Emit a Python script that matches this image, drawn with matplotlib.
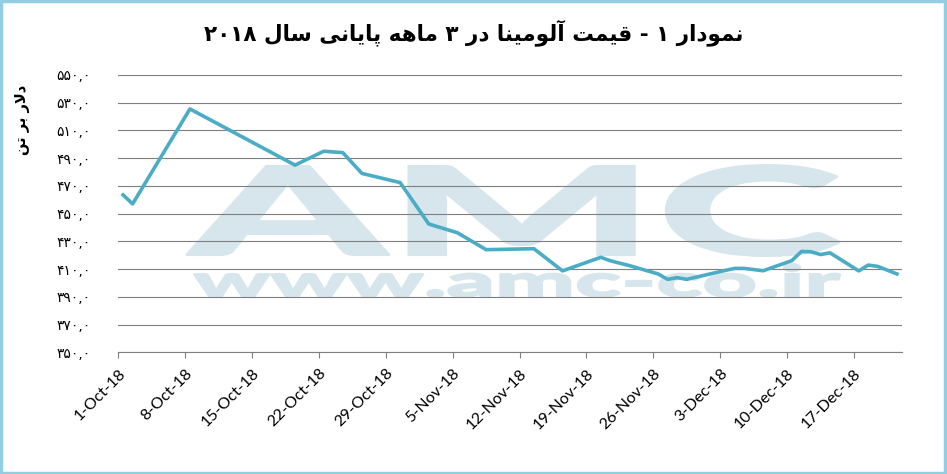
import matplotlib
matplotlib.use("Agg")
import matplotlib.pyplot as plt
import matplotlib.dates as mdates
from matplotlib.textpath import TextPath
from matplotlib.font_manager import FontProperties
from matplotlib.patches import PathPatch, Rectangle
from matplotlib.transforms import Affine2D
import pandas as pd

# price of alumina, last 3 months of 2018 (USD per tonne)
price_dates = ["2018-10-01", "2018-10-02", "2018-10-08", "2018-10-19", "2018-10-22",
               "2018-10-23", "2018-10-24", "2018-10-26", "2018-10-30", "2018-11-02",
               "2018-11-05", "2018-11-08", "2018-11-13", "2018-11-16", "2018-11-20",
               "2018-11-21", "2018-11-23", "2018-11-26", "2018-11-27", "2018-11-28",
               "2018-11-29", "2018-12-03", "2018-12-04", "2018-12-05", "2018-12-07",
               "2018-12-10", "2018-12-11", "2018-12-12", "2018-12-13", "2018-12-14",
               "2018-12-17", "2018-12-18", "2018-12-19", "2018-12-21"]
price_values = [463.5, 457.0, 525.5, 485.0, 495.0,
                494.5, 494.0, 479.0, 472.4, 442.5,
                436.2, 424.0, 424.7, 408.7, 418.5,
                416.0, 412.5, 406.5, 402.6, 403.8,
                402.6, 409.0, 410.5, 410.5, 408.8,
                416.1, 422.7, 422.5, 420.5, 421.7,
                408.7, 412.9, 411.9, 406.5]

xtick_dates = pd.date_range("2018-10-01", "2018-12-17", freq="7D")
xtick_labels = [f"{d.day}-{d.strftime('%b-%y')}" for d in xtick_dates]
ytick_values = list(range(350, 551, 20))

title_text = "نمودار ۱ - قیمت آلومینا در ۳ ماهه پایانی سال ۲۰۱۸"
ylabel_text = "دلار بر تن"

# --- tiny persian shaper (matplotlib has no complex text layout) ---
FORMS = {
    'ا': ('\uFE8D', '\uFE8E', None, None),
    'آ': ('\uFE81', '\uFE82', None, None),
    'ب': ('\uFE8F', '\uFE90', '\uFE91', '\uFE92'),
    'پ': ('\uFB56', '\uFB57', '\uFB58', '\uFB59'),
    'ت': ('\uFE95', '\uFE96', '\uFE97', '\uFE98'),
    'د': ('\uFEA9', '\uFEAA', None, None),
    'ر': ('\uFEAD', '\uFEAE', None, None),
    'س': ('\uFEB1', '\uFEB2', '\uFEB3', '\uFEB4'),
    'ق': ('\uFED5', '\uFED6', '\uFED7', '\uFED8'),
    'ل': ('\uFEDD', '\uFEDE', '\uFEDF', '\uFEE0'),
    'م': ('\uFEE1', '\uFEE2', '\uFEE3', '\uFEE4'),
    'ن': ('\uFEE5', '\uFEE6', '\uFEE7', '\uFEE8'),
    'ه': ('\uFEE9', '\uFEEA', '\uFEEB', '\uFEEC'),
    'و': ('\uFEED', '\uFEEE', None, None),
    'ی': ('\uFBFC', '\uFBFD', '\uFBFE', '\uFBFF'),
}
LAM_ALEF = {'ا': ('\uFEFB', '\uFEFC'), 'آ': ('\uFEF5', '\uFEF6')}
FA_DIGITS = "۰۱۲۳۴۵۶۷۸۹"


def shape_word(w):
    out = []
    i = 0
    while i < len(w):
        ch = w[i]
        if ch not in FORMS:
            out.append(ch)
            i += 1
            continue
        before = i > 0 and w[i - 1] in FORMS and FORMS[w[i - 1]][2] is not None
        if ch == 'ل' and i + 1 < len(w) and w[i + 1] in LAM_ALEF:
            out.append(LAM_ALEF[w[i + 1]][1 if before else 0])
            i += 2
            continue
        after = i + 1 < len(w) and w[i + 1] in FORMS and FORMS[ch][2] is not None
        if before and after:
            out.append(FORMS[ch][3])
        elif before:
            out.append(FORMS[ch][1])
        elif after:
            out.append(FORMS[ch][2])
        else:
            out.append(FORMS[ch][0])
        i += 1
    return "".join(out)


def fa(text):
    words = text.split(" ")
    vis = []
    for w in reversed(words):
        if all(c in FA_DIGITS for c in w):
            vis.append(w)
        else:
            vis.append(shape_word(w)[::-1])
    return " ".join(vis)


def fa_num(v):
    return "".join(FA_DIGITS[int(c)] for c in str(v)) + ",۰"


x = mdates.date2num(pd.to_datetime(price_dates)) + 0.5

fig = plt.figure(figsize=(9.47, 4.74), dpi=100)
ax = fig.add_axes([0.1249, 0.2568, 0.8273, 0.5850])

# watermark
wm = "#d6e6ec"
def watermark(s, x0, y0, x1, y1):
    tp = TextPath((0, 0), s, size=1, prop=FontProperties(family="Lato", weight=900))
    ext = tp.get_extents()
    tr = (Affine2D().translate(-ext.x0, -ext.y0)
          .scale((x1 - x0) / ext.width / 947, (y1 - y0) / ext.height / 474)
          .translate(x0 / 947, 1 - y1 / 474))
    p = PathPatch(tp, transform=tr + fig.transFigure, facecolor=wm, edgecolor=wm,
                  lw=1.5, zorder=0.1, clip_on=False)
    ax.add_artist(p)

watermark("AMC", 186, 165, 840, 256)
watermark("www.amc-co.ir", 194, 264, 840, 297)

ax.plot(x, price_values, color="#4bacc6", lw=2.6, zorder=3, solid_joinstyle="round")

ax.set_xlim(mdates.date2num(pd.Timestamp("2018-10-01")), mdates.date2num(pd.Timestamp("2018-12-22")))
ax.set_ylim(350, 550)
ax.set_yticks(ytick_values)
ax.set_yticklabels([fa_num(v) for v in ytick_values], family=["DejaVu Sans"], fontsize=10)
ax.set_xticks(mdates.date2num(xtick_dates))
ax.set_xticklabels(xtick_labels, rotation=45, ha="right", va="top",
                   rotation_mode="anchor", fontsize=11.5, family="Lato")

ax.set_axisbelow(True)
ax.grid(axis="y", color="#7f7f7f", lw=0.8)
for s in ["top", "right", "left"]:
    ax.spines[s].set_visible(False)
ax.spines["bottom"].set_color("#7f7f7f")
ax.spines["bottom"].set_linewidth(0.8)
ax.tick_params(axis="y", length=0, pad=20)
ax.tick_params(axis="x", length=4, color="#7f7f7f", width=0.8, pad=6)

fig.text(0.5, 1 - 33 / 474, fa(title_text), ha="center", va="center",
         fontsize=15.5, fontweight="bold", family=["DejaVu Sans"])
fig.text(22 / 947, 1 - 120 / 474, fa(ylabel_text), rotation=90, ha="center", va="center",
         fontsize=10.5, fontweight="bold", family=["DejaVu Sans"])

fig.add_artist(Rectangle((0.001, 0.002), 0.997, 0.996, transform=fig.transFigure,
                         fill=False, edgecolor="#93cde1", lw=2.5))

fig.savefig("out.png", dpi=100)
